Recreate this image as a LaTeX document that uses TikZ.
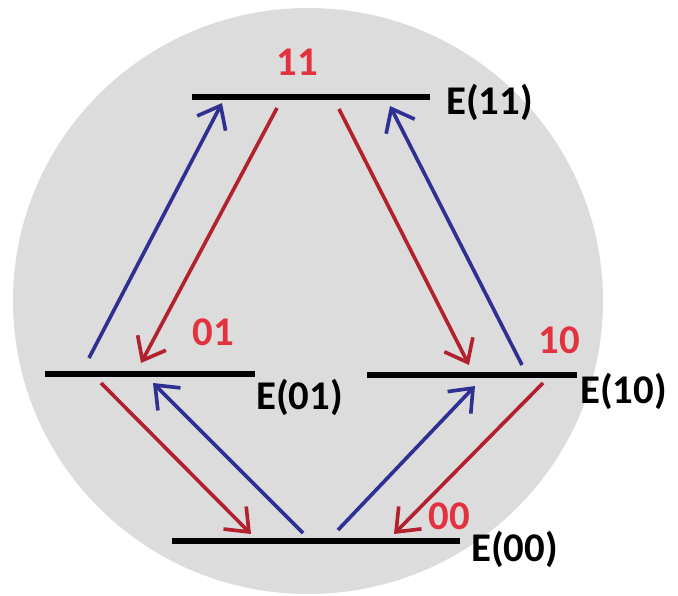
\documentclass[tikz,border=0pt]{standalone}
\usepackage{fontspec}
\setmainfont{Carlito}
\usetikzlibrary{arrows.meta}
\definecolor{navy}{HTML}{2E3192}
\definecolor{brick}{HTML}{B2222E}
\definecolor{rose}{HTML}{E2323F}
\definecolor{mist}{HTML}{DCDCDC}
\begin{document}
\begin{tikzpicture}[x=.025cm,y=-.025cm,>={Straight Barb[length=5mm,width=8mm]},
 lvl/.style={line width=3.6pt},
 up/.style={navy,line width=2.6pt,->},
 dn/.style={brick,line width=2.6pt,->},
 tag/.style={font=\fontsize{29}{32}\selectfont\bfseries,inner sep=0pt},
 bit/.style={tag,rose}]
 \useasboundingbox(0,0)rectangle(678,596);
 \fill[mist](308,301)ellipse(295 and 293);
 % levels
 \draw[lvl](192,97)--(430,97);
 \draw[lvl](45,374)--(255,374);
 \draw[lvl](367,375)--(577,375);
 \draw[lvl](172,541)--(460,541);
 \node[tag,anchor=west](e11)at(446,102){E(11)};
 \node[tag,anchor=west](e01)at(256,397){E(01)};
 \node[tag,anchor=west](e10)at(580,391){E(10)};
 \node[tag,anchor=west](e00)at(471,549){E(00)};
 \node[bit](b11)at(297,62){11};
 \node[bit](b01)at(213,332){01};
 \node[bit](b10)at(559,340){10};
 \node[bit](b00)at(449,516){00};
 % arrow ends
 \foreach \n/\p in {a/{89,358},b/{222,103},c/{277,108},d/{141,363},
   e/{339,109},f/{469,365},g/{522,365},h/{390,106},
   i/{101,383},j/{251,534},k/{303,533},l/{153,383},
   m/{338,530},n/{475,386},o/{543,383},p/{394,534}}
  \coordinate(\n)at(\p);
 \foreach \s/\t in {a/b,g/h,k/l,m/n}\draw[up](\s)--(\t);
 \foreach \s/\t in {c/d,e/f,i/j,o/p}\draw[dn](\s)--(\t);
\end{tikzpicture}
\end{document}
